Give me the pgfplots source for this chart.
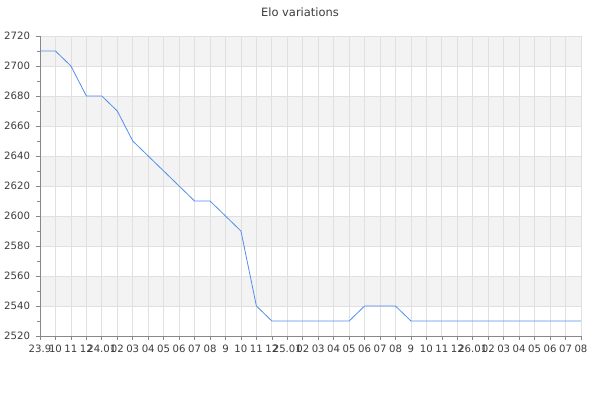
\documentclass[border=0pt]{standalone}
\usepackage{pgfplots}
\pgfplotsset{compat=1.18}
\usepackage{fontspec}
\setmainfont{DejaVu Sans}

\definecolor{eloline}{RGB}{82,141,238}
\definecolor{gridgray}{RGB}{224,224,224}
\definecolor{bandgray}{RGB}{243,243,243}
\definecolor{axisgray}{RGB}{136,136,136}
\definecolor{labelgray}{RGB}{60,60,60}

\begin{document}
\begin{tikzpicture}
\begin{axis}[
    set layers=standard,
    scale only axis,
    width=405.75pt, height=225pt,
    xmin=0, xmax=35,
    ymin=2520, ymax=2720,
    axis x line*=bottom,
    axis y line*=left,
    axis line style={axisgray, line width=0.6pt, -},
    xtick={0,...,35},
    xticklabels={23.9,10,11,12,24.01,02,03,04,05,06,07,08,9,10,11,12,25.01,02,03,04,05,06,07,08,9,10,11,12,26.01,02,03,04,05,06,07,08},
    ytick={2520,2540,...,2720},
    minor y tick num=1,
    tick align=outside,
    major tick length=3pt,
    minor tick length=2pt,
    tick style={axisgray, line width=0.5pt},
    xmajorgrids, ymajorgrids,
    major grid style={gridgray, line width=0.6pt},
    ticklabel style={font=\fontsize{7.6}{8}\selectfont, text=labelgray},
    /pgf/number format/assume math mode=true,
    /pgf/number format/1000 sep={},
    yticklabel style={xshift=-1pt},
    xticklabel style={yshift=-2.5pt, inner sep=1pt},
    band/.style={draw=none, fill=bandgray, forget plot, on layer=axis background},
]
\addplot[band] coordinates {(0,2540) (35,2540) (35,2560) (0,2560)};
\addplot[band] coordinates {(0,2580) (35,2580) (35,2600) (0,2600)};
\addplot[band] coordinates {(0,2620) (35,2620) (35,2640) (0,2640)};
\addplot[band] coordinates {(0,2660) (35,2660) (35,2680) (0,2680)};
\addplot[band] coordinates {(0,2700) (35,2700) (35,2720) (0,2720)};
\addplot[eloline, line width=0.6pt, mark=none] coordinates {
    (0, 2710) (1, 2710) (2, 2700) (3, 2680) (4, 2680) (5, 2670)
    (6, 2650) (7, 2640) (8, 2630) (9, 2620) (10, 2610) (11, 2610)
    (12, 2600) (13, 2590) (14, 2540) (15, 2530) (16, 2530) (17, 2530)
    (18, 2530) (19, 2530) (20, 2530) (21, 2540) (22, 2540) (23, 2540)
    (24, 2530) (25, 2530) (26, 2530) (27, 2530) (28, 2530) (29, 2530)
    (30, 2530) (31, 2530) (32, 2530) (33, 2530) (34, 2530) (35, 2530)
};
\end{axis}
\node[text=labelgray, font=\fontsize{8.6}{10}\selectfont] at (195pt,243pt) {Elo variations};
\pgfresetboundingbox
\path[use as bounding box] (-30pt,-48pt) rectangle (420pt,252pt);
\end{tikzpicture}
\end{document}
